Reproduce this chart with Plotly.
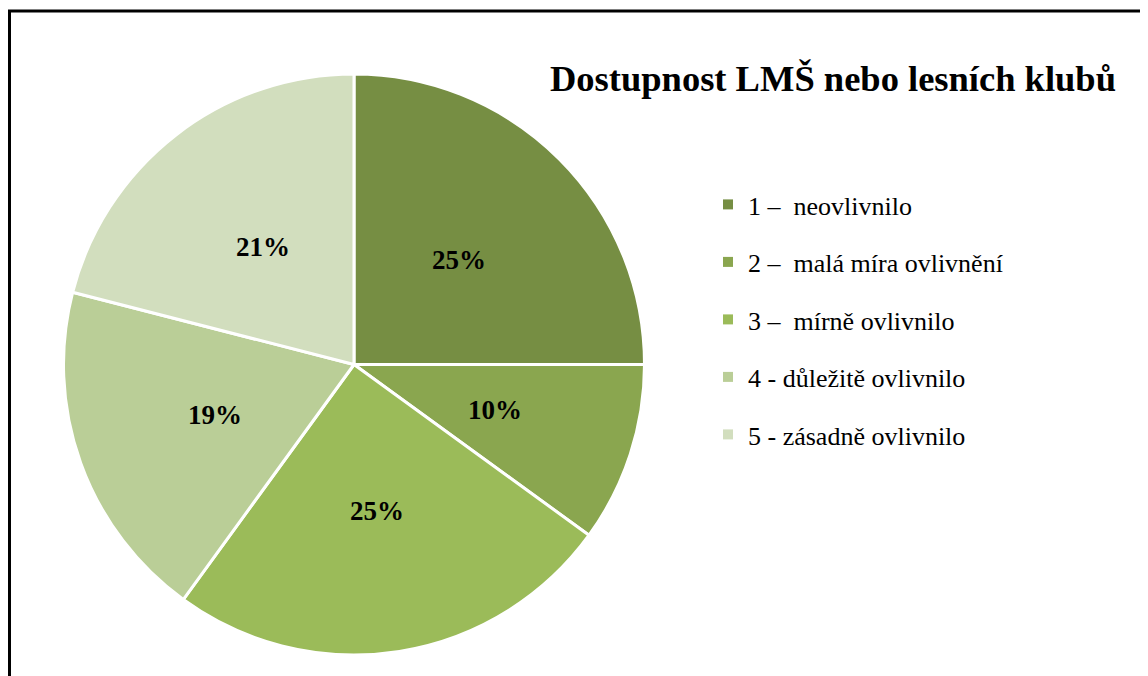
import math
import plotly.graph_objects as go

labels = ["1 \u2013\u00a0 neovlivnilo", "2 \u2013\u00a0 malá míra ovlivnění", "3 \u2013\u00a0 mírně ovlivnilo",
          "4 - důležitě ovlivnilo", "5 - zásadně ovlivnilo"]
values = [25, 10, 25, 19, 21]
colors = ["#768E43", "#8AA64F", "#9BBB59", "#BACE97", "#D2DEBE"]
title = "Dostupnost LMŠ nebo lesních klubů"

W, H = 1148, 676

# pie geometry (figure pixels)
pie_x0, pie_x1, pie_top, pie_bot = 55, 637, 66, 647
dom_x = [pie_x0 / W, pie_x1 / W]
dom_y = [1 - pie_bot / H, 1 - pie_top / H]
cx_px = (pie_x0 + pie_x1) / 2
cy_px = (pie_top + pie_bot) / 2
R = min(pie_x1 - pie_x0, pie_bot - pie_top) / 2

fig = go.Figure()
fig.add_trace(go.Pie(
    labels=labels,
    values=values,
    sort=False,
    direction="clockwise",
    rotation=0,
    marker=dict(colors=colors, line=dict(color="white", width=3)),
    textinfo="none",
    domain=dict(x=dom_x, y=dom_y),
    hoverinfo="label+percent",
    showlegend=False,
))

# legend entries (one per category, same labels and colours)
for i, (lab, col) in enumerate(zip(labels, colors)):
    fig.add_trace(go.Scatter(
        x=[None], y=[None], mode="markers", name=lab, legendgroup=str(i),
        marker=dict(symbol="square", size=10, color=col),
        showlegend=True, hoverinfo="skip",
    ))

# percentage labels placed at half radius along each slice's mid-angle
total = sum(values)
annotations = []
cum = 0
for v in values:
    mid = (cum + v / 2) / total * 2 * math.pi
    cum += v
    r = 0.51 * R
    px = cx_px + r * math.sin(mid)
    py = cy_px - r * math.cos(mid)
    annotations.append(dict(
        x=px / W, y=1 - py / H, xref="paper", yref="paper",
        text="<b>%d%%</b>" % round(v / total * 100), showarrow=False,
        font=dict(family="Liberation Serif", size=27, color="black"),
        xanchor="center", yanchor="middle",
    ))

fig.update_layout(
    width=W, height=H,
    margin=dict(l=0, r=0, t=0, b=0),
    paper_bgcolor="white",
    plot_bgcolor="white",
    xaxis=dict(visible=False),
    yaxis=dict(visible=False),
    font=dict(family="Liberation Serif", color="black"),
    title=dict(text="<b>" + title + "</b>", x=825 / W, xanchor="center", y=1 - 70 / H, yanchor="middle",
               font=dict(family="Liberation Serif", size=36.5, color="black")),
    legend=dict(x=700 / W, y=1 - 173 / H, xanchor="left", yanchor="top",
                font=dict(family="Liberation Serif", size=26, color="black"),
                itemwidth=30, tracegroupgap=20.7, bgcolor="rgba(0,0,0,0)", traceorder="grouped"),
    annotations=annotations,
    shapes=[dict(type="rect", xref="paper", yref="paper", x0=1.5 / W, x1=1200 / W, y0=-50 / H, y1=1 - 3 / H,
                 line=dict(color="black", width=3), fillcolor="rgba(0,0,0,0)", layer="above")],
)

fig.write_html("out.html")
